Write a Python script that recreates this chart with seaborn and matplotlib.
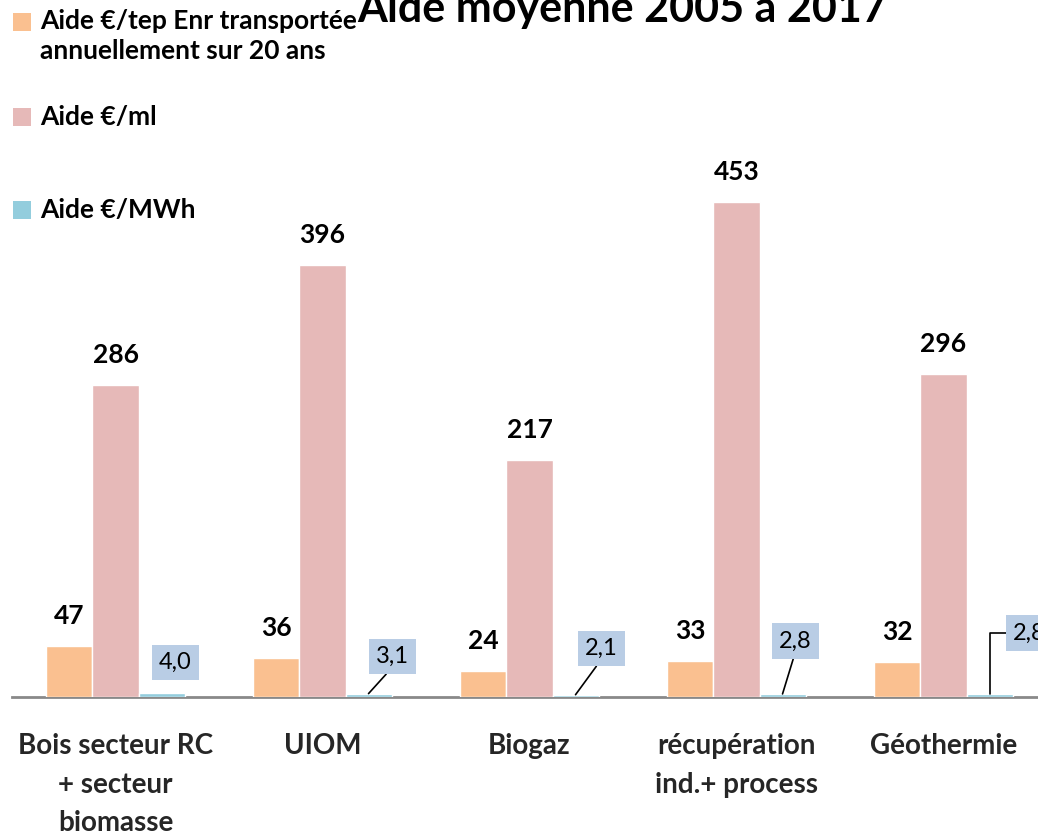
import matplotlib
matplotlib.use("Agg")
import matplotlib.pyplot as plt
import seaborn as sns
import pandas as pd
from matplotlib.patches import Rectangle

categories = ["Bois secteur RC\n+ secteur\nbiomasse", "UIOM", "Biogaz",
              "récupération\nind.+ process", "Géothermie"]
series = ["Aide €/tep Enr transportée\nannuellement sur 20 ans", "Aide €/ml", "Aide €/MWh"]
aide_tep = [47, 36, 24, 33, 32]
aide_ml = [286, 396, 217, 453, 296]
aide_mwh = [4.0, 3.1, 2.1, 2.8, 2.8]
colors = ["#FAC090", "#E6B9B8", "#93CDDD"]
title = "Aide moyenne 2005 à 2017"

sns.set_theme(style="white")
plt.rcParams["font.family"] = ["Lato", "DejaVu Sans"]

rows = []
for s, vals in zip(series, [aide_tep, aide_ml, aide_mwh]):
    for c, v in zip(categories, vals):
        rows.append({"cat": c, "serie": s, "val": v})
df = pd.DataFrame(rows)

W, H = 1038, 831
fig = plt.figure(figsize=(W / 100, H / 100), dpi=100)
ax = fig.add_axes([12 / W, 134 / H, 1035 / W, 546 / H])

sns.barplot(data=df, x="cat", y="val", hue="serie", palette=colors,
            width=0.667, saturation=1, errorbar=None, ax=ax, legend=False)

ax.set_xlim(-0.5, 4.5)
ax.set_ylim(0, 500)
for sp in ["left", "right", "top"]:
    ax.spines[sp].set_visible(False)
ax.spines["bottom"].set_color("#898989")
ax.spines["bottom"].set_linewidth(2)
ax.spines["bottom"].set_zorder(0)
ax.set_yticks([])
ax.set_xlabel("")
ax.set_ylabel("")
ax.tick_params(axis="x", length=0, pad=26)
ax.set_xticks(range(len(categories)))
ax.set_xticklabels(categories, fontsize=20, fontweight="bold", linespacing=1.6)

# value labels for first two series
for cont in ax.containers[:2]:
    for rect, v in zip(cont.patches, cont.datavalues):
        ax.annotate(f"{v:.0f}", (rect.get_x() + rect.get_width() / 2, rect.get_height()),
                    xytext=(0, 30), textcoords="offset pixels", ha="center", va="center",
                    fontsize=19, fontweight="bold", color="black")

# callout labels for third series
offsets = [(14, 30), (24, 37), (26, 46), (13, 53), (40, 61)]
for i, (rect, v) in enumerate(zip(ax.containers[2].patches, ax.containers[2].datavalues)):
    xy = (rect.get_x() + rect.get_width() / 2, rect.get_height())
    dx, dy = offsets[i]
    arrow = None
    if i in (1, 2, 3):
        arrow = dict(arrowstyle="-", color="black", lw=1.2, shrinkA=0, shrinkB=0,
                     relpos=(0.5, 0))
    elif i == 4:
        arrow = dict(arrowstyle="-", color="black", lw=1.2, shrinkA=0, shrinkB=0,
                     relpos=(0, 0.5), connectionstyle="angle,angleA=180,angleB=90,rad=0")
    ax.annotate(f"{v:.1f}".replace(".", ","), xy, xytext=(dx, dy), textcoords="offset pixels",
                ha="center", va="center", fontsize=17, color="black",
                bbox=dict(boxstyle="square,pad=0.3", fc="#B9CDE5", ec="none"),
                arrowprops=arrow, annotation_clip=False)

# title
fig.text(622 / W, 1 - 22 / H, title, ha="center", va="baseline",
         fontsize=31, fontweight="bold", color="black")

# legend (manual)
leg_y = [22, 117, 210]
for s, c, y in zip(series, colors, leg_y):
    fig.patches.append(Rectangle((13 / W, 1 - (y + 9) / H), 18 / W, 18 / H,
                                 transform=fig.transFigure, fc=c, ec="none"))
    if "\n" in s:
        fig.text(40 / W, 1 - (y - 13) / H, s, ha="left", va="top",
                 fontsize=19, fontweight="bold", color="black", linespacing=1.3)
    else:
        fig.text(40 / W, 1 - y / H, s, ha="left", va="center",
                 fontsize=19, fontweight="bold", color="black")

fig.savefig("out.png", dpi=100)
